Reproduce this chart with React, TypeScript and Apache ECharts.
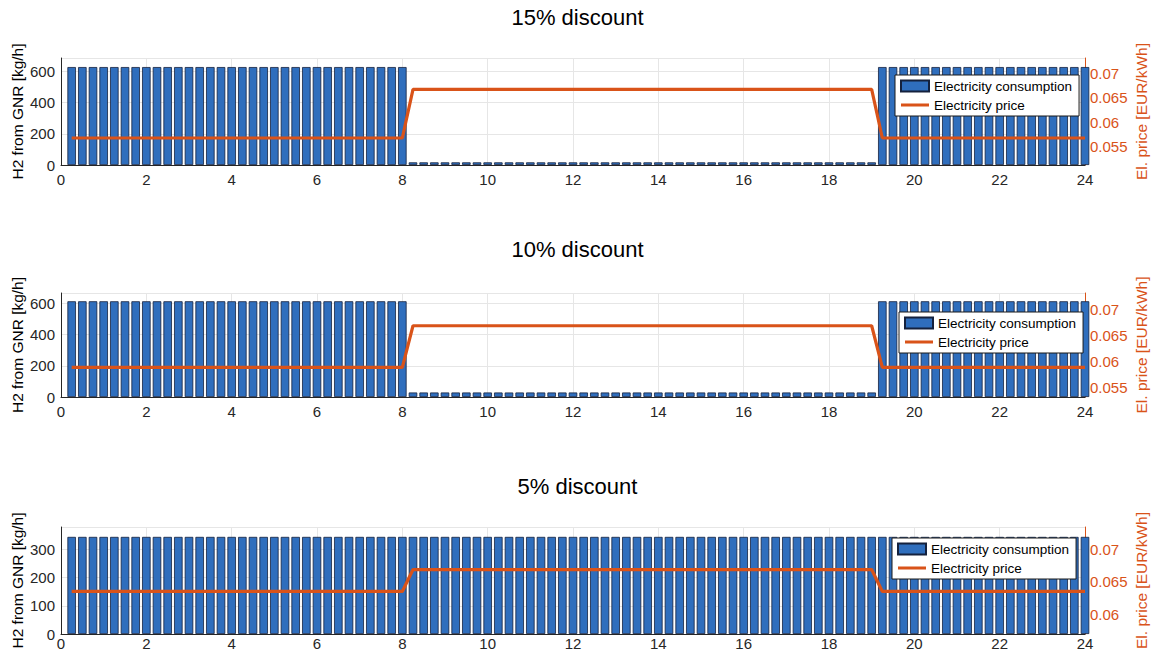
import React, { useEffect, useRef } from "react";
import * as echarts from "echarts";

// Time of day [h], quarter-hour steps
const hours = [
  0.25, 0.5, 0.75, 1, 1.25, 1.5, 1.75, 2, 2.25, 2.5, 2.75, 3, 3.25, 3.5, 3.75, 4,
  4.25, 4.5, 4.75, 5, 5.25, 5.5, 5.75, 6, 6.25, 6.5, 6.75, 7, 7.25, 7.5, 7.75, 8,
  8.25, 8.5, 8.75, 9, 9.25, 9.5, 9.75, 10, 10.25, 10.5, 10.75, 11, 11.25, 11.5, 11.75, 12,
  12.25, 12.5, 12.75, 13, 13.25, 13.5, 13.75, 14, 14.25, 14.5, 14.75, 15, 15.25, 15.5, 15.75, 16,
  16.25, 16.5, 16.75, 17, 17.25, 17.5, 17.75, 18, 18.25, 18.5, 18.75, 19, 19.25, 19.5, 19.75, 20,
  20.25, 20.5, 20.75, 21, 21.25, 21.5, 21.75, 22, 22.25, 22.5, 22.75, 23, 23.25, 23.5, 23.75, 24,
];

// 15% discount
const h2_15 = [
  628, 628, 628, 628, 628, 628, 628, 628, 628, 628, 628, 628, 628, 628, 628, 628,
  628, 628, 628, 628, 628, 628, 628, 628, 628, 628, 628, 628, 628, 628, 628, 628,
  17, 17, 17, 17, 17, 17, 17, 17, 17, 17, 17, 17, 17, 17, 17, 17,
  17, 17, 17, 17, 17, 17, 17, 17, 17, 17, 17, 17, 17, 17, 17, 17,
  17, 17, 17, 17, 17, 17, 17, 17, 17, 17, 17, 17, 628, 628, 628, 628,
  628, 628, 628, 628, 628, 628, 628, 628, 628, 628, 628, 628, 628, 628, 628, 628,
];
const price_15 = [
  0.0568, 0.0568, 0.0568, 0.0568, 0.0568, 0.0568, 0.0568, 0.0568, 0.0568, 0.0568, 0.0568, 0.0568, 0.0568, 0.0568, 0.0568, 0.0568,
  0.0568, 0.0568, 0.0568, 0.0568, 0.0568, 0.0568, 0.0568, 0.0568, 0.0568, 0.0568, 0.0568, 0.0568, 0.0568, 0.0568, 0.0568, 0.0568,
  0.0667, 0.0667, 0.0667, 0.0667, 0.0667, 0.0667, 0.0667, 0.0667, 0.0667, 0.0667, 0.0667, 0.0667, 0.0667, 0.0667, 0.0667, 0.0667,
  0.0667, 0.0667, 0.0667, 0.0667, 0.0667, 0.0667, 0.0667, 0.0667, 0.0667, 0.0667, 0.0667, 0.0667, 0.0667, 0.0667, 0.0667, 0.0667,
  0.0667, 0.0667, 0.0667, 0.0667, 0.0667, 0.0667, 0.0667, 0.0667, 0.0667, 0.0667, 0.0667, 0.0667, 0.0568, 0.0568, 0.0568, 0.0568,
  0.0568, 0.0568, 0.0568, 0.0568, 0.0568, 0.0568, 0.0568, 0.0568, 0.0568, 0.0568, 0.0568, 0.0568, 0.0568, 0.0568, 0.0568, 0.0568,
];

// 10% discount
const h2_10 = [
  614, 614, 614, 614, 614, 614, 614, 614, 614, 614, 614, 614, 614, 614, 614, 614,
  614, 614, 614, 614, 614, 614, 614, 614, 614, 614, 614, 614, 614, 614, 614, 614,
  29, 29, 29, 29, 29, 29, 29, 29, 29, 29, 29, 29, 29, 29, 29, 29,
  29, 29, 29, 29, 29, 29, 29, 29, 29, 29, 29, 29, 29, 29, 29, 29,
  29, 29, 29, 29, 29, 29, 29, 29, 29, 29, 29, 29, 614, 614, 614, 614,
  614, 614, 614, 614, 614, 614, 614, 614, 614, 614, 614, 614, 614, 614, 614, 614,
];
const price_10 = [
  0.0589, 0.0589, 0.0589, 0.0589, 0.0589, 0.0589, 0.0589, 0.0589, 0.0589, 0.0589, 0.0589, 0.0589, 0.0589, 0.0589, 0.0589, 0.0589,
  0.0589, 0.0589, 0.0589, 0.0589, 0.0589, 0.0589, 0.0589, 0.0589, 0.0589, 0.0589, 0.0589, 0.0589, 0.0589, 0.0589, 0.0589, 0.0589,
  0.0669, 0.0669, 0.0669, 0.0669, 0.0669, 0.0669, 0.0669, 0.0669, 0.0669, 0.0669, 0.0669, 0.0669, 0.0669, 0.0669, 0.0669, 0.0669,
  0.0669, 0.0669, 0.0669, 0.0669, 0.0669, 0.0669, 0.0669, 0.0669, 0.0669, 0.0669, 0.0669, 0.0669, 0.0669, 0.0669, 0.0669, 0.0669,
  0.0669, 0.0669, 0.0669, 0.0669, 0.0669, 0.0669, 0.0669, 0.0669, 0.0669, 0.0669, 0.0669, 0.0669, 0.0589, 0.0589, 0.0589, 0.0589,
  0.0589, 0.0589, 0.0589, 0.0589, 0.0589, 0.0589, 0.0589, 0.0589, 0.0589, 0.0589, 0.0589, 0.0589, 0.0589, 0.0589, 0.0589, 0.0589,
];

// 5% discount
const h2_5 = [
  344, 344, 344, 344, 344, 344, 344, 344, 344, 344, 344, 344, 344, 344, 344, 344,
  344, 344, 344, 344, 344, 344, 344, 344, 344, 344, 344, 344, 344, 344, 344, 344,
  344, 344, 344, 344, 344, 344, 344, 344, 344, 344, 344, 344, 344, 344, 344, 344,
  344, 344, 344, 344, 344, 344, 344, 344, 344, 344, 344, 344, 344, 344, 344, 344,
  344, 344, 344, 344, 344, 344, 344, 344, 344, 344, 344, 344, 344, 344, 344, 344,
  344, 344, 344, 344, 344, 344, 344, 344, 344, 344, 344, 344, 344, 344, 344, 344,
];
const price_5 = [
  0.0635, 0.0635, 0.0635, 0.0635, 0.0635, 0.0635, 0.0635, 0.0635, 0.0635, 0.0635, 0.0635, 0.0635, 0.0635, 0.0635, 0.0635, 0.0635,
  0.0635, 0.0635, 0.0635, 0.0635, 0.0635, 0.0635, 0.0635, 0.0635, 0.0635, 0.0635, 0.0635, 0.0635, 0.0635, 0.0635, 0.0635, 0.0635,
  0.0669, 0.0669, 0.0669, 0.0669, 0.0669, 0.0669, 0.0669, 0.0669, 0.0669, 0.0669, 0.0669, 0.0669, 0.0669, 0.0669, 0.0669, 0.0669,
  0.0669, 0.0669, 0.0669, 0.0669, 0.0669, 0.0669, 0.0669, 0.0669, 0.0669, 0.0669, 0.0669, 0.0669, 0.0669, 0.0669, 0.0669, 0.0669,
  0.0669, 0.0669, 0.0669, 0.0669, 0.0669, 0.0669, 0.0669, 0.0669, 0.0669, 0.0669, 0.0669, 0.0669, 0.0635, 0.0635, 0.0635, 0.0635,
  0.0635, 0.0635, 0.0635, 0.0635, 0.0635, 0.0635, 0.0635, 0.0635, 0.0635, 0.0635, 0.0635, 0.0635, 0.0635, 0.0635, 0.0635, 0.0635,
];

const titles = ["15% discount", "10% discount", "5% discount"];
const h2Series = [h2_15, h2_10, h2_5];
const priceSeries = [price_15, price_10, price_5];
const xTicks = [0, 2, 4, 6, 8, 10, 12, 14, 16, 18, 20, 22, 24];
const leftMax = [686, 667, 379];
const leftInterval = [200, 200, 100];
const leftTicks = [
  [0, 200, 400, 600],
  [0, 200, 400, 600],
  [0, 100, 200, 300],
];
const rightMin = [0.0513, 0.0532, 0.0569];
const rightMax = [0.0731, 0.0732, 0.0735];
const rightTicks = [
  [0.055, 0.06, 0.065, 0.07],
  [0.055, 0.06, 0.065, 0.07],
  [0.06, 0.065, 0.07],
];

const FONT = "'Liberation Sans', Arial, Helvetica, sans-serif";
const ORANGE = "#D95319";
const BLUE = "#2f6ebd";
const AXIS = "#262626";

const grids = [
  { top: 58, height: 107 },
  { top: 293, height: 104 },
  { top: 527, height: 107 },
];
const xLabelMargin = [7, 7, 2];
const titleTops = [6, 238, 475];
const legendPos = [
  { left: 895, top: 75 },
  { left: 899, top: 312 },
  { left: 892, top: 538 },
];

const LINE_ICON = "path://M0,4h28v3h-28z M0,0h0.05v0.05h-0.05z M27.95,10.95h0.05v0.05h-0.05z";

export default function App() {
  const ref = useRef<HTMLDivElement>(null);

  useEffect(() => {
    if (!ref.current) return;
    const chart = echarts.init(ref.current, undefined, { renderer: "svg" });

    const option: any = {
      animation: false,
      backgroundColor: "#ffffff",
      textStyle: { fontFamily: FONT },
      title: titles.map((t, i) => ({
        text: t,
        left: "center",
        top: titleTops[i],
        padding: 0,
        textStyle: { fontSize: 22, fontWeight: "normal", color: "#000", fontFamily: FONT },
      })),
      grid: grids.map((g) => ({
        left: 61,
        width: 1024,
        top: g.top,
        height: g.height,
        containLabel: false,
        outerBoundsMode: "none",
      })),
      legend: legendPos.map((p) => ({
        left: p.left,
        top: p.top,
        orient: "vertical",
        selectedMode: false,
        backgroundColor: "#ffffff",
        borderColor: "#1a1a1a",
        borderWidth: 1,
        borderRadius: 0,
        padding: [3, 7, 3, 5],
        itemGap: 3,
        itemWidth: 28,
        itemHeight: 11,
        textStyle: { fontSize: 13.5, color: "#000", fontFamily: FONT, lineHeight: 16 },
        data: [
          { name: "Electricity consumption", icon: "rect" },
          { name: "Electricity price", icon: LINE_ICON, itemStyle: { color: ORANGE } },
        ],
      })),
      xAxis: grids.map((_, i) => ({
        type: "value",
        gridIndex: i,
        min: 0,
        max: 24,
        interval: 2,
        axisLine: { show: true, onZero: false, lineStyle: { color: AXIS, width: 1 } },
        axisTick: { show: false },
        axisLabel: {
          color: AXIS,
          fontSize: 15,
          margin: xLabelMargin[i],
          fontFamily: FONT,
          customValues: xTicks,
        },
        splitLine: { show: true, lineStyle: { color: "#e6e6e6", width: 1 } },
      })),
      yAxis: [
        ...grids.map((_, i) => ({
          type: "value",
          gridIndex: i,
          position: "left",
          min: 0,
          max: leftMax[i],
          interval: leftInterval[i],
          name: "H2 from GNR [kg/h]",
          nameLocation: "middle",
          nameGap: 36,
          nameMoveOverlap: false,
          nameTextStyle: { color: "#000", fontSize: 15.5, fontFamily: FONT },
          axisLine: { show: true, lineStyle: { color: AXIS, width: 1 } },
          axisTick: { show: false },
          axisLabel: {
            color: AXIS,
            fontSize: 15,
            margin: 6,
            fontFamily: FONT,
            customValues: leftTicks[i],
          },
          splitLine: { show: true, lineStyle: { color: "#e6e6e6", width: 1 } },
        })),
        ...grids.map((_, i) => ({
          type: "value",
          gridIndex: i,
          position: "right",
          min: rightMin[i],
          max: rightMax[i],
          name: "El. price [EUR/kWh]",
          nameLocation: "middle",
          nameGap: 48,
          nameMoveOverlap: false,
          nameTextStyle: { color: ORANGE, fontSize: 15.5, fontFamily: FONT },
          axisLine: { show: true, lineStyle: { color: ORANGE, width: 1 } },
          axisTick: { show: false, customValues: rightTicks[i] },
          axisLabel: {
            color: ORANGE,
            fontSize: 15,
            margin: 5,
            fontFamily: FONT,
            customValues: rightTicks[i],
            formatter: (v: number) => String(Math.round(v * 1000) / 1000),
          },
          splitLine: { show: false },
        })),
      ],
      series: [
        ...grids.map((_, i) => ({
          name: "Electricity consumption",
          type: "bar",
          xAxisIndex: i,
          yAxisIndex: i,
          barWidth: "80%",
          clip: true,
          itemStyle: { color: BLUE, borderColor: "#14213d", borderWidth: 0.8 },
          data: hours.map((h, k) => [h, h2Series[i][k]]),
          z: 2,
        })),
        ...grids.map((_, i) => ({
          name: "Electricity price",
          type: "line",
          xAxisIndex: i,
          yAxisIndex: 3 + i,
          symbol: "none",
          lineStyle: { color: ORANGE, width: 3.2 },
          itemStyle: { color: ORANGE },
          data: hours.map((h, k) => [h, priceSeries[i][k]]),
          z: 3,
        })),
      ],
    };

    chart.setOption(option);
    return () => chart.dispose();
  }, []);

  return (
    <div
      ref={ref}
      style={{ position: "absolute", left: 0, top: 0, width: 1155, height: 656, background: "#fff" }}
    />
  );
}
